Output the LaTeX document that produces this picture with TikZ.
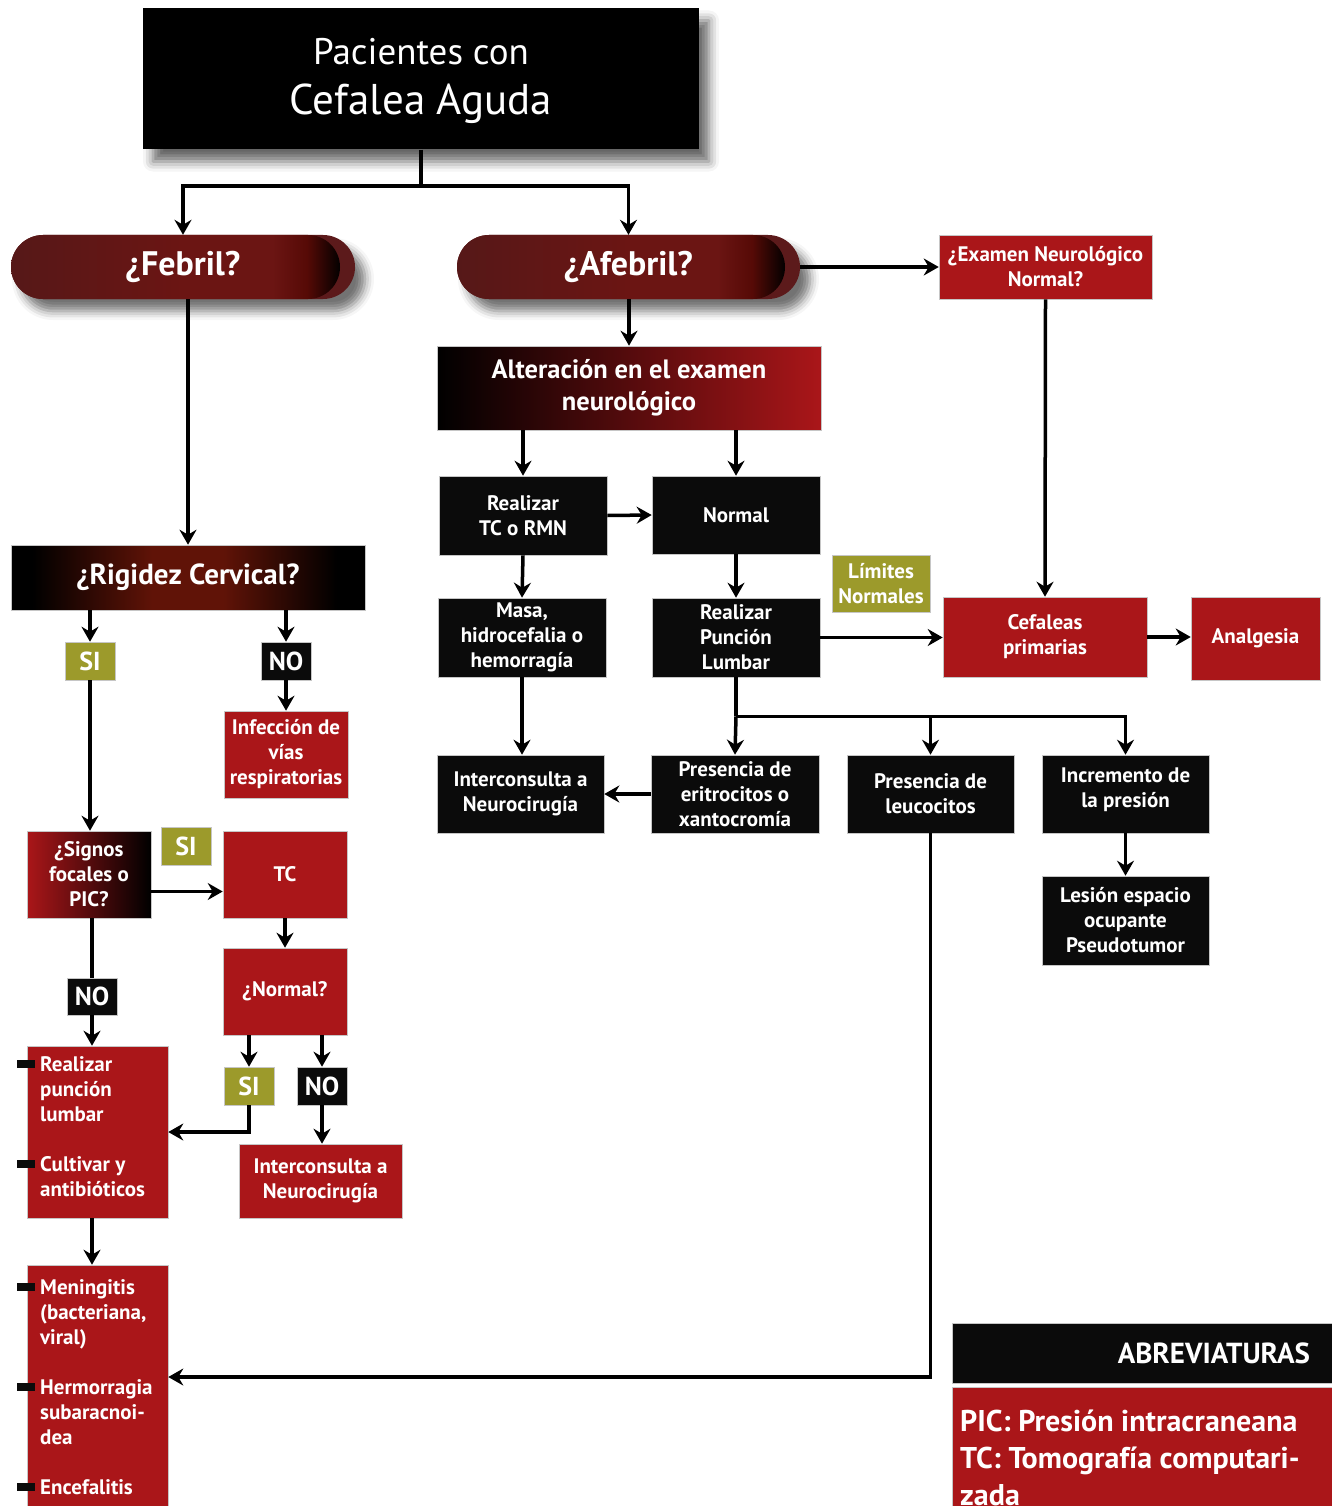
\documentclass[tikz,border=0pt]{standalone}
\usepackage{fontspec}
\setmainfont{PT Sans}
\usetikzlibrary{arrows.meta}
\usetikzlibrary{positioning}
\usetikzlibrary{shadows.blur}

\definecolor{nred}{HTML}{AA1619}
\definecolor{nblack}{HTML}{0B0B0B}
\definecolor{nolive}{HTML}{9C9A2B}
\definecolor{pillA}{HTML}{561818}
\definecolor{pillB}{HTML}{6B1513}
\definecolor{pillC}{HTML}{560A06}
\definecolor{pillrim}{HTML}{5C1A1B}
\definecolor{dred}{HTML}{601307}

\pgfdeclarehorizontalshading{pillshade}{100bp}{color(0bp)=(pillA); color(25bp)=(pillA);
  color(50bp)=(pillB); color(63bp)=(pillB); color(68bp)=(pillC); color(73bp)=(black); color(100bp)=(black)}
\pgfdeclarehorizontalshading{rigshade}{100bp}{color(0bp)=(black); color(28bp)=(black);
  color(45bp)=(dred); color(55bp)=(dred); color(71bp)=(black); color(100bp)=(black)}

\tikzset{
  base/.style={rectangle, draw=gray!45, line width=0.6pt, text=white, align=center,
    inner sep=2pt, font=\bfseries\fontsize{21}{25}\selectfont},
  blackbox/.style={base, fill=nblack},
  redbox/.style={base, fill=nred},
  yesbox/.style={base, fill=nolive, minimum width=50pt, minimum height=38pt,
    font=\bfseries\fontsize{26}{28}\selectfont},
  nobox/.style={yesbox, fill=nblack},
  pill/.style={rectangle, rounded corners=32pt, fill=pillrim, text=white,
    minimum height=64pt, font=\bfseries\fontsize{34}{36}\selectfont,
    blur shadow={shadow xshift=10pt, shadow yshift=-12pt, shadow blur radius=9pt, shadow opacity=55},
    path picture={\shade[shading=pillshade, rounded corners=32pt]
      (path picture bounding box.south west) rectangle ([xshift=-15pt]path picture bounding box.north east);}},
  bullet/.style={rectangle, fill=nblack, inner sep=0pt, minimum width=18pt, minimum height=8pt},
  item/.style={anchor=north west, text=white, align=left, inner sep=0pt,
    font=\bfseries\fontsize{21}{25}\selectfont},
  link/.style={line width=3.5pt},
  conn/.style={line width=3.5pt, -{Stealth[length=15pt,width=17pt,inset=5pt]}}
}

\begin{document}
\begin{tikzpicture}[x=1pt, y=-1pt]
  \useasboundingbox (0,0) rectangle (1332,1506);

  % title and first split
  \node (pac) at (421,79) [rectangle, fill=black, text=white, align=center,
    minimum width=556pt, minimum height=141pt, font=\fontsize{43}{50}\selectfont,
    blur shadow={shadow xshift=10pt, shadow yshift=-12pt, shadow blur radius=10pt, shadow opacity=60}]
    {{\fontsize{37}{50}\selectfont Pacientes con}\\Cefalea Aguda\\[-44pt]\mbox{}};
  \node (febril) at (183,267) [pill, minimum width=344pt] {¿Febril?};
  \node (afebril) at (628.5,267) [pill, minimum width=343pt] {¿Afebril?};
  \node (exam) at (1045.5,267) [redbox, minimum width=213pt, minimum height=64pt]
    {¿Examen Neurológico\\Normal?};

  % afebril branch
  \node (alter) at (629,388) [base, minimum width=384pt, minimum height=84pt,
    left color=black, right color=nred, font=\bfseries\fontsize{26.5}{32}\selectfont]
    {Alteración en el examen\\neurológico};
  \node (tc) at (523,515.5) [blackbox, minimum width=168pt, minimum height=79pt] {Realizar\\TC o RMN};
  \node (nrm) at (736,515) [blackbox, minimum width=168pt, minimum height=78pt] {Normal};
  \node (masa) at (522,637.5) [blackbox, minimum width=168pt, minimum height=79pt]
    {Masa,\\hidrocefalia o\\hemorragía};
  \node (pl) at (736,637.5) [blackbox, minimum width=168pt, minimum height=79pt]
    {Realizar\\Punción\\Lumbar};
  \node (lim) at (881,583.5) [base, fill=nolive, minimum width=98pt, minimum height=57pt]
    {Límites\\Normales};
  \node (cef) at (1045,637) [redbox, minimum width=204pt, minimum height=80pt] {Cefaleas\\primarias};
  \node (anal) at (1255.5,638.5) [redbox, minimum width=129pt, minimum height=83pt] {Analgesia};
  \node (intR) at (520.5,794) [blackbox, minimum width=167pt, minimum height=78pt]
    {Interconsulta a\\Neurocirugía};
  \node (eri) at (735,794) [blackbox, minimum width=168pt, minimum height=78pt]
    {Presencia de\\eritrocitos o\\xantocromía};
  \node (leu) at (930.5,794) [blackbox, minimum width=167pt, minimum height=78pt]
    {Presencia de\\leucocitos};
  \node (inc) at (1125.5,794) [blackbox, minimum width=167pt, minimum height=78pt]
    {Incremento de\\la presión\\[-12pt]\mbox{}};
  \node (les) at (1125.5,920.5) [blackbox, minimum width=167pt, minimum height=89pt]
    {Lesión espacio\\ocupante\\Pseudotumor};

  % febril branch
  \node (rig) at (188,577.5) [base, minimum width=354pt, minimum height=65pt,
    shading=rigshade, font=\bfseries\fontsize{29}{30}\selectfont] {¿Rigidez Cervical?};
  \node (si1) at (90,661) [yesbox] {SI};
  \node (no1) at (286,661) [nobox] {NO};
  \node (inf) at (286,754.5) [redbox, minimum width=124pt, minimum height=87pt]
    {Infección de\\vías\\respiratorias};
  \node (sig) at (89,874.5) [base, minimum width=124pt, minimum height=87pt,
    left color=nred, right color=black] {¿Signos\\focales o\\PIC?};
  \node (si2) at (186,846) [yesbox] {SI};
  \node (tcb) at (285,874.5) [redbox, minimum width=124pt, minimum height=87pt] {TC};
  \node (nq) at (285,991.5) [redbox, minimum width=124pt, minimum height=87pt] {¿Normal?};
  \node (si3) at (249,1086) [yesbox] {SI};
  \node (no3) at (322,1086) [nobox] {NO};
  \node (intL) at (320.5,1181) [redbox, minimum width=163pt, minimum height=74pt]
    {Interconsulta a\\Neurocirugía};
  \node (no4) at (92,996.5) [nobox, minimum height=37pt] {NO};

  % list boxes
  \node (plbox) at (97.5,1132) [redbox, minimum width=141pt, minimum height=172pt] {};
  \node (it1) at (40,1056) [item] {Realizar\\punción\\lumbar};
  \node (it2) at (40,1156) [item] {Cultivar y\\antibióticos};
  \node (b1) at (26,1064) [bullet] {};
  \node (b2) at (26,1164) [bullet] {};
  \node (menbox) at (97.5,1390) [redbox, minimum width=141pt, minimum height=250pt] {};
  \node (it3) at (40,1279) [item] {Meningitis\\(bacteriana,\\viral)};
  \node (it4) at (40,1379) [item] {Hermorragia\\subaracnoi-\\dea};
  \node (it5) at (40,1479) [item] {Encefalitis};
  \node (b3) at (26,1287) [bullet] {};
  \node (b4) at (26,1387) [bullet] {};
  \node (b5) at (26,1487) [bullet] {};

  % abbreviations
  \node (abr) at (1142,1353) [base, fill=nblack, minimum width=380pt, minimum height=60pt,
    text width=336pt, align=right, font=\bfseries\fontsize{29}{30}\selectfont] {ABREVIATURAS};
  \node (abrbox) at (1142,1452) [redbox, minimum width=380pt, minimum height=130pt] {};
  \node (abrtxt) at (960,1410) [item, font=\bfseries\fontsize{30}{37}\selectfont]
    {PIC: Presión intracraneana\\TC: Tomografía computari-\\zada};

  % connectors
  \coordinate (split) at (421,186);
  \draw[link] (pac.south) -- (split);
  \draw[conn] (split) -| (febril.north);
  \draw[conn] (split) -| (afebril.north);
  \draw[conn] (afebril.east) -- (exam.west);
  \draw[conn] (alter.north |- afebril.south) -- (alter.north);
  \draw[conn] (tc.north |- alter.south) -- (tc.north);
  \draw[conn] (nrm.north |- alter.south) -- (nrm.north);
  \draw[conn] (tc.east) -- (nrm.west);
  \draw[conn] (tc.south) -- (masa.north);
  \draw[conn] (nrm.south) -- (pl.north);
  \draw[conn] (pl.east) -- (pl.east -| cef.west);
  \draw[conn] (exam.south) -- (cef.north);
  \draw[conn] (cef.east) -- (cef.east -| anal.west);
  \draw[conn] (masa.south) -- (masa.south |- intR.north);
  \draw[link] (pl.south) -- ++(0,39) coordinate (fork);
  \draw[conn] (fork) -- (eri.north);
  \draw[conn] (fork) -| (leu.north);
  \draw[conn] (fork) -| (inc.north);
  \draw[conn] (eri.west) -- (intR.east);
  \draw[conn] (inc.south) -- (les.north);
  \draw[conn] (leu.south) |- ([yshift=13pt]menbox.east);

  \draw[conn] (rig.north |- febril.south) -- (rig.north);
  \draw[conn] (si1.north |- rig.south) -- (si1.north);
  \draw[conn] (no1.north |- rig.south) -- (no1.north);
  \draw[conn] (no1.south) -- (inf.north);
  \draw[conn] (si1.south) -- (si1.south |- sig.north);
  \draw[conn] ([yshift=-17pt]sig.east) -- ([yshift=-17pt]sig.east -| tcb.west);
  \draw[conn] (tcb.south) -- (nq.north);
  \draw[conn] (si3.north |- nq.south) -- (si3.north);
  \draw[conn] (no3.north |- nq.south) -- (no3.north);
  \draw[conn] (no3.south) -- (no3.south |- intL.north);
  \draw[conn] (si3.south) |- (plbox.east);
  \draw[link] (no4.north |- sig.south) -- (no4.north);
  \draw[conn] (no4.south) -- (no4.south |- plbox.north);
  \draw[conn] (no4.south |- plbox.south) -- (no4.south |- menbox.north);
\end{tikzpicture}
\end{document}
